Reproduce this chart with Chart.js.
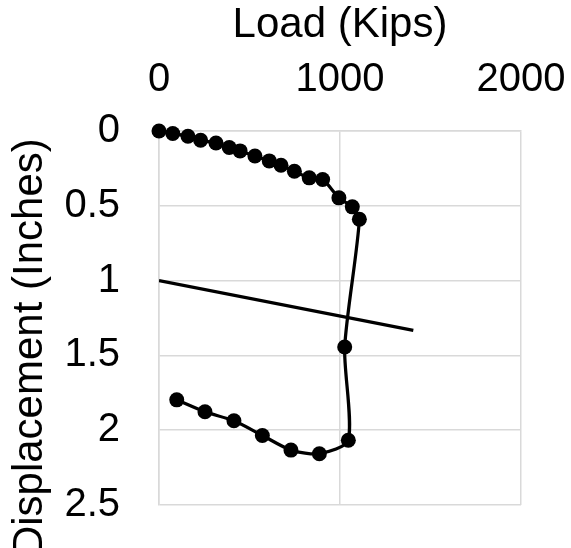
<!DOCTYPE html>
<html><head><meta charset="utf-8">
<script src="https://cdn.jsdelivr.net/npm/chart.js@4/dist/chart.umd.min.js"></script>
<style>html,body{margin:0;padding:0;background:#fff;}canvas{display:block;}</style>
</head><body>
<canvas id="c" width="571" height="548"></canvas>
<script>
const loadKips = [0, 76, 160, 230, 315, 388, 448, 530, 609, 674, 748, 830, 904, 994, 1068, 1107, 1026, 1046, 886, 729, 571, 414, 254, 98];
const dispInches = [0, 0.017, 0.035, 0.062, 0.08, 0.11, 0.133, 0.167, 0.2, 0.229, 0.269, 0.313, 0.324, 0.447, 0.507, 0.59, 1.444, 2.067, 2.157, 2.133, 2.035, 1.937, 1.877, 1.797];
const refLoad = [0, 1405];
const refDisp = [1, 1.333];
const xTickValues = [0, 1000, 2000];
const xTickLabels = ['0', '1000', '2000'];
const yTickValues = [0, 0.5, 1, 1.5, 2, 2.5];
const yTickLabels = ['0', '0.5', '1', '1.5', '2', '2.5'];
const xTitle = 'Load (Kips)';
const yTitle = 'Displacement (Inches)     ';

const FONT = "'Liberation Sans', Arial, sans-serif";
const GRID = '#d9d9d9';

function labelFor(values, labels, v) {
  const i = values.findIndex(t => Math.abs(t - v) < 1e-6);
  return i >= 0 ? labels[i] : '';
}

new Chart(document.getElementById('c'), {
  type: 'scatter',
  data: {
    datasets: [
      {
        data: loadKips.map((x, i) => ({ x: x, y: dispInches[i] })),
        showLine: true,
        clip: false,
        borderColor: '#000',
        backgroundColor: '#000',
        borderWidth: 3.25,
        pointRadius: 7.5,
        pointHoverRadius: 7.5,
        pointBorderWidth: 0,
        tension: 0.25
      },
      {
        data: refLoad.map((x, i) => ({ x: x, y: refDisp[i] })),
        showLine: true,
        borderColor: '#000',
        backgroundColor: '#000',
        borderWidth: 3.25,
        pointRadius: 0,
        tension: 0
      }
    ]
  },
  options: {
    responsive: false,
    animation: false,
    devicePixelRatio: 1,
    layout: { padding: { left: 0, top: 0, right: 50, bottom: 43 } },
    plugins: { legend: { display: false }, tooltip: { enabled: false } },
    scales: {
      x: {
        type: 'linear', position: 'top', min: 0, max: 2000,
        ticks: { stepSize: 1000, padding: 27, color: '#000', font: { family: FONT, size: 40 },
          callback: v => labelFor(xTickValues, xTickLabels, v) },
        grid: { color: GRID, lineWidth: 1.5, drawTicks: false, tickLength: 0 },
        border: { color: GRID, width: 1.5 },
        title: { display: true, text: xTitle, color: '#000', font: { family: FONT, size: 42 }, padding: { top: 0, bottom: 0 } },
        afterFit: s => { s.height = 131; s.paddingLeft = 0; s.paddingRight = 0; }
      },
      y: {
        type: 'linear', position: 'left', reverse: true, min: 0, max: 2.5,
        ticks: { stepSize: 0.5, padding: 39, color: '#000', font: { family: FONT, size: 40 },
          callback: v => labelFor(yTickValues, yTickLabels, v) },
        grid: { color: GRID, lineWidth: 1.5, drawTicks: false, tickLength: 0 },
        border: { color: GRID, width: 1.5 },
        title: { display: true, text: yTitle, color: '#000', font: { family: FONT, size: 42 }, padding: { top: 5, bottom: 0 } },
        afterFit: s => { s.width = 159; s.paddingTop = 0; s.paddingBottom = 0; }
      }
    }
  }
});
</script>
</body></html>
